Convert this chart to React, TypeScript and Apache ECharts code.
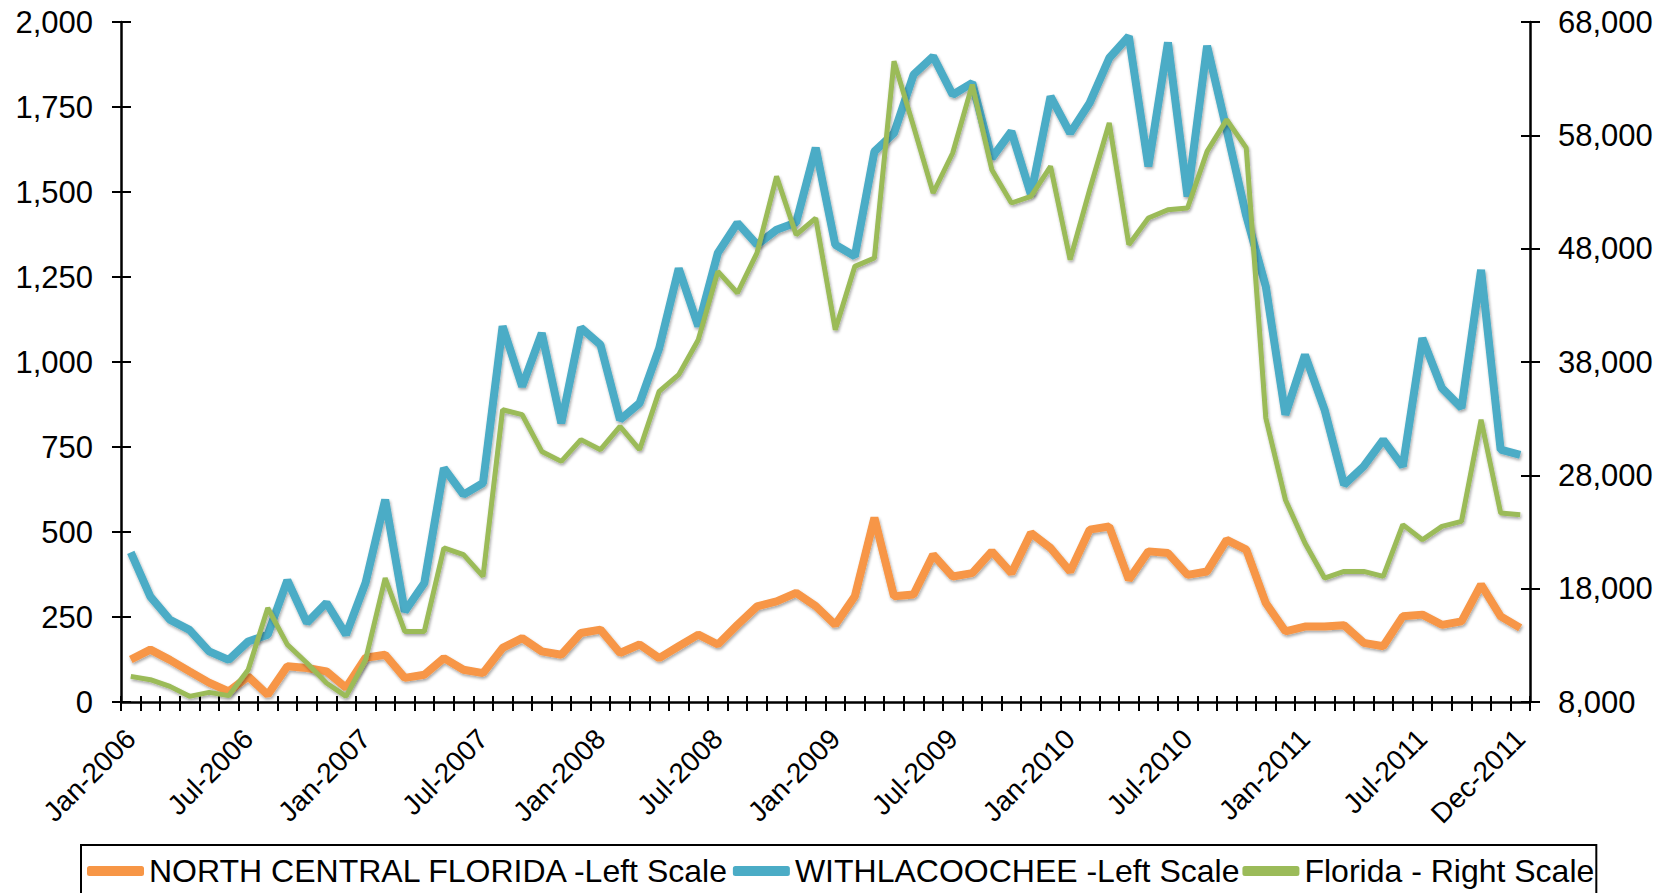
import React, { useEffect, useRef } from "react";
import * as echarts from "echarts";

const MONTHS = ["Jan", "Feb", "Mar", "Apr", "May", "Jun", "Jul", "Aug", "Sep", "Oct", "Nov", "Dec"];
const YEARS = [2006, 2007, 2008, 2009, 2010, 2011];
const categories: string[] = [];
YEARS.forEach((y) => MONTHS.forEach((m) => categories.push(`${m}-${y}`)));

const northCentral = [
  125, 154, 124, 90, 57, 31, 75, 21, 105, 100, 90, 42,
  130, 139, 71, 80, 129, 95, 85, 159, 188, 149, 139, 203,
  213, 144, 169, 129, 164, 198, 169, 227, 281, 296, 321, 282,
  227, 311, 542, 311, 316, 433, 369, 379, 443, 379, 497, 453,
  384, 507, 516, 360, 443, 438, 374, 384, 477, 448, 291, 208,
  222, 222, 226, 174, 164, 252, 257, 227, 237, 345, 252, 218,
];

const withlacoochee = [
  440, 310, 242, 212, 149, 124, 178, 198, 358, 233, 292, 198,
  351, 595, 266, 350, 688, 610, 644, 1105, 928, 1085, 820, 1101,
  1051, 830, 879, 1040, 1275, 1105, 1321, 1409, 1345, 1389, 1410, 1630,
  1345, 1311, 1619, 1673, 1845, 1899, 1786, 1821, 1600, 1678, 1492, 1781,
  1673, 1762, 1894, 1958, 1575, 1940, 1487, 1930, 1683, 1430, 1222, 845,
  1021, 860, 639, 693, 771, 693, 1070, 923, 865, 1271, 742, 727,
];

const florida = [
  10260, 9970, 9380, 8500, 8850, 8560, 10850, 16290, 13060, 11440, 9680, 8500,
  11730, 18940, 14230, 14230, 21590, 21000, 19080, 33790, 33350, 30110, 29230, 31150,
  30260, 32320, 30260, 35410, 36880, 39970, 46000, 44090, 47620, 54380, 49230, 50700,
  40850, 46440, 47180, 64530, 58790, 52910, 56440, 62470, 54970, 52030, 52620, 55260,
  47030, 53200, 59090, 48350, 50700, 51440, 51590, 56590, 59390, 56890, 33060, 25850,
  22030, 18940, 19520, 19520, 19080, 23650, 22320, 23500, 23940, 32910, 24680, 24530,
];

const LEFT_MIN = 0;
const LEFT_MAX = 2000;
const LEFT_STEP = 250;
const RIGHT_MIN = 8000;
const RIGHT_MAX = 68000;
const RIGHT_STEP = 10000;

const SERIES_NAMES = [
  "NORTH CENTRAL FLORIDA -Left Scale",
  "WITHLACOOCHEE -Left Scale",
  "Florida - Right Scale",
];

const FONT = "'Liberation Sans', Arial, Helvetica, sans-serif";

const fmt = (v: number) => v.toLocaleString("en-US");

export default function App() {
  const ref = useRef<HTMLDivElement>(null);

  useEffect(() => {
    if (!ref.current) return;
    const chart = echarts.init(ref.current, undefined, { renderer: "svg" });
    const shadow = {
      shadowColor: "rgba(0,0,0,0.35)",
      shadowBlur: 3,
      shadowOffsetX: 1,
      shadowOffsetY: 2,
    };
    const baseAxisLine = { show: true, onZero: false, lineStyle: { color: "#000", width: 2.5 } };
    const tickStyle = { color: "#000", width: 2 };
    chart.setOption({
      animation: false,
      backgroundColor: "#fff",
      textStyle: { fontFamily: FONT, color: "#000" },
      grid: { left: 121, right: 138, top: 22, bottom: 191, containLabel: false },
      legend: {
        left: 81,
        top: 845,
        orient: "horizontal",
        icon: "roundRect",
        itemWidth: 57,
        itemHeight: 10,
        itemGap: 3,
        borderColor: "#000",
        borderWidth: 2,
        padding: [10, 2, 30, 6],
        textStyle: { fontSize: 32, color: "#000", fontFamily: FONT },
        data: SERIES_NAMES,
      },
      xAxis: [
        {
          type: "category",
          data: categories,
          boundaryGap: true,
          axisLine: baseAxisLine,
          axisTick: { show: true, interval: 0, length: 9, lineStyle: tickStyle },
          axisLabel: {
            interval: (i: number) => i % 6 === 0 || i === categories.length - 1,
            rotate: 45,
            fontSize: 28,
            color: "#000",
            fontFamily: FONT,
            margin: 32,
          },
          splitLine: { show: false },
        },
        {
          type: "category",
          data: categories,
          boundaryGap: true,
          position: "bottom",
          axisLine: { show: false, onZero: false },
          axisTick: { show: true, inside: true, interval: 0, length: 6, lineStyle: tickStyle },
          axisLabel: { show: false },
          splitLine: { show: false },
        },
      ],
      yAxis: [
        {
          type: "value",
          position: "left",
          min: LEFT_MIN,
          max: LEFT_MAX,
          interval: LEFT_STEP,
          axisLine: baseAxisLine,
          axisTick: { show: true, length: 9, lineStyle: tickStyle },
          axisLabel: { fontSize: 31, color: "#000", fontFamily: FONT, margin: 28, formatter: fmt },
          splitLine: { show: false },
        },
        {
          type: "value",
          position: "right",
          min: RIGHT_MIN,
          max: RIGHT_MAX,
          interval: RIGHT_STEP,
          axisLine: baseAxisLine,
          axisTick: { show: true, length: 10, lineStyle: tickStyle },
          axisLabel: { fontSize: 31, color: "#000", fontFamily: FONT, margin: 28, formatter: fmt },
          splitLine: { show: false },
        },
        {
          type: "value",
          position: "left",
          min: LEFT_MIN,
          max: LEFT_MAX,
          interval: LEFT_STEP,
          axisLine: { show: false },
          axisTick: { show: true, inside: true, length: 10, lineStyle: tickStyle },
          axisLabel: { show: false },
          splitLine: { show: false },
        },
        {
          type: "value",
          position: "right",
          min: RIGHT_MIN,
          max: RIGHT_MAX,
          interval: RIGHT_STEP,
          axisLine: { show: false },
          axisTick: { show: true, inside: true, length: 9, lineStyle: tickStyle },
          axisLabel: { show: false },
          splitLine: { show: false },
        },
      ],
      series: [
        {
          name: SERIES_NAMES[0],
          type: "line",
          xAxisIndex: 0,
          yAxisIndex: 0,
          data: northCentral,
          symbol: "none",
          color: "#F79646",
          lineStyle: { width: 8, color: "#F79646", ...shadow },
          z: 2,
        },
        {
          name: SERIES_NAMES[1],
          type: "line",
          xAxisIndex: 0,
          yAxisIndex: 0,
          data: withlacoochee,
          symbol: "none",
          color: "#4BACC6",
          lineStyle: { width: 8, color: "#4BACC6", ...shadow },
          z: 3,
        },
        {
          name: SERIES_NAMES[2],
          type: "line",
          xAxisIndex: 0,
          yAxisIndex: 1,
          data: florida,
          symbol: "none",
          color: "#9BBB59",
          lineStyle: { width: 5, color: "#9BBB59", ...shadow },
          z: 4,
        },
      ],
    });
    return () => chart.dispose();
  }, []);

  return (
    <div
      ref={ref}
      style={{ position: "fixed", left: 0, top: 0, width: 1668, height: 893, background: "#fff" }}
    />
  );
}
